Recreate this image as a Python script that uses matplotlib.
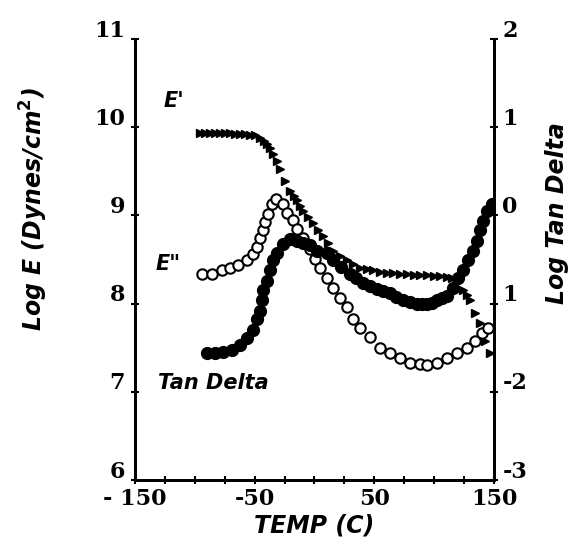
import matplotlib.pyplot as plt
from matplotlib.ticker import MultipleLocator
from matplotlib.transforms import ScaledTranslation

# storage modulus E' (log dynes/cm2), filled triangles
temp_e1 = [-95.7, -91.5, -87.3, -83.1, -79.0, -74.8, -70.6, -66.4, -62.3, -58.1, -53.9, -49.7,
           -45.5, -42.5, -39.7, -37.0, -34.7, -31.5, -28.8, -24.6, -20.5, -17.5, -14.6, -12.0,
           -9.6, -5.5, -1.2, 3.0, 7.1, 11.0, 15.5, 21.0, 27.2, 32.5, 38.0, 43.5, 48.9, 54.5,
           60.6, 66.0, 71.5, 77.3, 83.0, 88.5, 94.0, 99.5, 105.0, 110.7, 115.0, 119.1, 124.1,
           127.0, 130.0, 134.1, 138.3, 142.5, 146.7]
log_e1 = [9.94, 9.94, 9.93, 9.93, 9.93, 9.93, 9.93, 9.92, 9.92, 9.92, 9.91, 9.91,
          9.88, 9.85, 9.81, 9.76, 9.70, 9.62, 9.53, 9.39, 9.28, 9.22, 9.17, 9.11,
          9.05, 8.98, 8.91, 8.84, 8.77, 8.69, 8.60, 8.54, 8.49, 8.45, 8.41, 8.39, 8.38, 8.36,
          8.35, 8.35, 8.34, 8.34, 8.33, 8.33, 8.32, 8.31, 8.31, 8.30, 8.29, 8.26, 8.15,
          8.10, 8.04, 7.89, 7.78, 7.58, 7.44]

# loss modulus E'' (log dynes/cm2), open circles
temp_e2 = [-94.0, -85.6, -77.3, -70.6, -63.9, -56.4, -51.4, -48.0, -45.5, -43.0, -41.4, -38.9,
           -35.5, -32.2, -26.3, -23.0, -18.0, -14.6, -9.6, -3.8, 0.4, 4.6, 10.5, 15.5, 21.3,
           27.2, 32.2, 38.0, 46.4, 54.8, 63.1, 71.5, 79.8, 88.2, 94.0, 102.4, 110.7, 119.1,
           127.5, 134.1, 140.0, 145.0]
log_e2 = [8.34, 8.34, 8.38, 8.41, 8.44, 8.50, 8.56, 8.64, 8.74, 8.83, 8.93, 9.02,
          9.13, 9.19, 9.13, 9.03, 8.95, 8.85, 8.75, 8.62, 8.51, 8.41, 8.29, 8.18, 8.07,
          7.96, 7.83, 7.73, 7.62, 7.50, 7.44, 7.38, 7.33, 7.32, 7.31, 7.33, 7.38, 7.44,
          7.50, 7.58, 7.67, 7.73]

# log tan delta, filled circles (right axis)
temp_td = [-89.8, -83.1, -76.5, -68.9, -62.3, -56.4, -51.4, -48.0, -45.5, -43.9, -43.0, -39.7,
           -37.2, -34.7, -31.3, -26.3, -20.5, -14.6, -9.6, -3.8, 2.1, 10.5, 15.5, 22.5, 29.7,
           35.0, 40.5, 46.5, 52.2, 57.5, 63.1, 68.5, 74.0, 80.0, 85.7, 90.0, 94.0, 98.0, 102.4,
           106.5, 110.7, 115.8, 119.9, 124.1, 128.3, 132.5, 135.8, 138.3, 140.8, 144.2, 148.4]
log_td = [-1.56, -1.56, -1.55, -1.53, -1.47, -1.39, -1.30, -1.17, -1.08, -0.96, -0.85, -0.74,
          -0.62, -0.51, -0.43, -0.32, -0.27, -0.29, -0.31, -0.34, -0.40, -0.43, -0.51, -0.58, -0.66,
          -0.71, -0.76, -0.80, -0.83, -0.86, -0.88, -0.92, -0.96, -0.98, -1.00, -1.00, -1.00, -0.99, -0.96,
          -0.94, -0.91, -0.82, -0.71, -0.62, -0.51, -0.40, -0.29, -0.17, -0.06, 0.05, 0.13]

x_labels = ['- 150', '-50', '50', '150']
x_label_pos = [-150, -50, 50, 150]
left_ticks = [6, 7, 8, 9, 10, 11]
right_ticks = [-3, -2, -1, 0, 1, 2]
right_labels = ['-3', '-2', '1', '0', '1', '2']

serif = {'family': 'DejaVu Serif', 'weight': 'bold', 'size': 16}
sans = {'family': 'DejaVu Sans', 'weight': 'bold', 'style': 'italic', 'size': 15}
sans_big = dict(sans, size=17)

fig = plt.figure(figsize=(5.84, 5.5), dpi=100)
ax = fig.add_axes([0.231, 0.127, 0.615, 0.802])
ax2 = ax.twinx()

ax.plot(temp_e1, log_e1, linestyle='none', marker='>', markersize=5.5, color='black')
ax.plot(temp_e2, log_e2, linestyle='none', marker='o', markersize=7.5, markerfacecolor='white',
        markeredgecolor='black', markeredgewidth=1.5)
ax2.plot(temp_td, log_td, linestyle='none', marker='o', markersize=8.5, color='black')

ax.set_xlim(-150, 150)
ax.set_ylim(6, 11)
ax2.set_ylim(-3, 2)

for a in (ax, ax2):
    a.spines['top'].set_visible(False)
    for s in ('left', 'right', 'bottom'):
        a.spines[s].set_linewidth(2)

ax.set_xticks(x_label_pos)
ax.set_xticklabels(x_labels, fontdict=serif)
ax.xaxis.set_minor_locator(MultipleLocator(25))
ax.tick_params(axis='x', which='both', direction='inout', length=6, width=1.5, pad=3)
ax.set_yticks(left_ticks)
ax.set_yticklabels([str(t) for t in left_ticks], fontdict=serif)
ax.tick_params(axis='y', direction='inout', length=6, width=1.5, pad=4)
ax2.set_yticks(right_ticks)
ax2.set_yticklabels(right_labels, fontdict=serif)
ax2.tick_params(axis='y', direction='inout', length=6, width=1.5, pad=3)

# tick labels on both y axes sit a little above their ticks in the original
shift = ScaledTranslation(0, 0.11, fig.dpi_scale_trans)
for lbl in ax.get_yticklabels() + ax2.get_yticklabels():
    lbl.set_transform(lbl.get_transform() + shift)

ax.set_xlabel('TEMP (C)', fontdict=sans_big, labelpad=2)
ax.set_ylabel(r'Log E (Dynes/cm$^\mathbf{2}$)', fontdict=sans_big)
ax2.set_ylabel('Log Tan Delta', fontdict=sans_big)
ax.yaxis.set_label_coords(-0.237, 0.615)
ax2.yaxis.set_label_coords(1.142, 0.605)

ax.text(-126, 10.3, "E'", fontdict=sans, ha='left', va='center')
ax.text(-133, 8.45, 'E"', fontdict=sans, ha='left', va='center')
ax.text(-131, 7.1, 'Tan Delta', fontdict=sans, ha='left', va='center')

fig.savefig('out.png', dpi=100)
